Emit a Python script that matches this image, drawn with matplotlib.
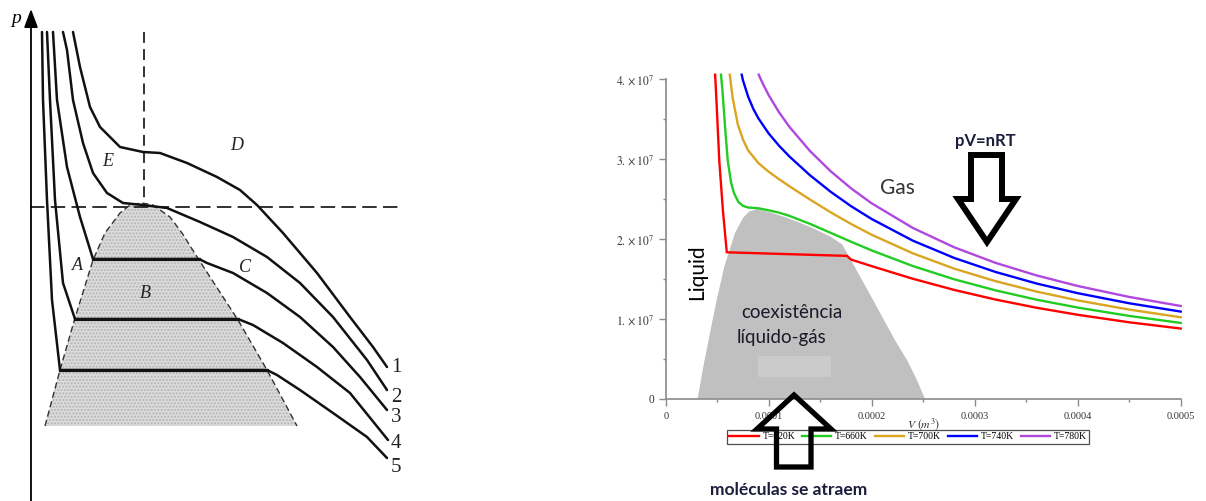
import numpy as np
import matplotlib.pyplot as plt
from matplotlib.patches import Polygon

plt.rcParams['font.family'] = ['Liberation Serif', 'DejaVu Serif']
plt.rcParams['mathtext.fontset'] = 'stix'

# ---------------- right panel: isotherms (V in 1e-4 m^3, p in 1e7 Pa) ----------------
temps = [620, 660, 700, 740, 780]
colors = ['#ff0000', '#22cc22', '#daa520', '#0000ff', '#b048e0']

v_620 = [0.48, 0.49, 0.52, 0.555, 0.593, 1.76, 1.8, 2.0, 2.4, 2.8, 3.2, 3.6, 4.0, 4.5, 5.0]
p_620 = [4.05, 3.80, 2.98, 2.36, 1.83, 1.785, 1.739, 1.657, 1.499, 1.360, 1.240, 1.137, 1.049, 0.955, 0.877]

v_660 = [0.537, 0.553, 0.576, 0.602, 0.635, 0.663, 0.705, 0.75, 0.8, 0.9, 1.0, 1.1, 1.2, 1.4, 1.6,
         1.8, 2.0, 2.4, 2.8, 3.2, 3.6, 4.0, 4.5, 5.0]
p_660 = [4.05, 3.82, 3.40, 2.98, 2.70, 2.57, 2.46, 2.41, 2.39, 2.38, 2.355, 2.326, 2.286, 2.186, 2.074,
         1.962, 1.853, 1.658, 1.493, 1.355, 1.238, 1.139, 1.035, 0.947]

v_700 = [0.622, 0.65, 0.7, 0.75, 0.8, 0.9, 1.0, 1.1, 1.2, 1.4, 1.6, 1.8, 2.0, 2.4, 2.8, 3.2, 3.6, 4.0, 4.5, 5.0]
p_700 = [4.05, 3.76, 3.43, 3.24, 3.105, 2.945, 2.837, 2.744, 2.657, 2.490, 2.331, 2.184, 2.049, 1.817,
         1.626, 1.470, 1.339, 1.229, 1.114, 1.018]

v_740 = [0.738, 0.75, 0.8, 0.85, 0.9, 1.0, 1.1, 1.2, 1.4, 1.6, 1.8, 2.0, 2.4, 2.8, 3.2, 3.6, 4.0, 4.5, 5.0]
p_740 = [4.05, 3.98, 3.777, 3.624, 3.504, 3.315, 3.163, 3.029, 2.794, 2.588, 2.406, 2.246, 1.975, 1.760,
         1.585, 1.440, 1.319, 1.193, 1.089]

v_780 = [0.903, 0.95, 1.0, 1.1, 1.2, 1.4, 1.6, 1.8, 2.0, 2.4, 2.8, 3.2, 3.6, 4.0, 4.5, 5.0]
p_780 = [4.05, 3.919, 3.794, 3.581, 3.400, 3.097, 2.845, 2.629, 2.442, 2.134, 1.893, 1.699, 1.541,
         1.409, 1.272, 1.159]

# liquid-gas coexistence region
dome_v = [0.304, 0.314, 0.365, 0.430, 0.495, 0.569, 0.673, 0.750, 0.810, 0.886, 1.012, 1.158, 1.303,
          1.449, 1.595, 1.712, 1.809, 1.906, 2.013, 2.129, 2.236, 2.343, 2.430, 2.517]
dome_p = [0, 0.025, 0.40, 0.821, 1.234, 1.65, 2.071, 2.26, 2.34, 2.37, 2.33, 2.27, 2.20,
          2.12, 2.03, 1.93, 1.709, 1.484, 1.234, 0.959, 0.709, 0.484, 0.259, 0]

x_ticks = [0, 1, 2, 3, 4, 5]
x_ticklabels = ['0', '0.0001', '0.0002', '0.0003', '0.0004', '0.0005']
y_ticks = [0, 1, 2, 3, 4]
y_ticklabels = ['0'] + [r'$%d.\times10^{7}$' % k for k in y_ticks[1:]]

# ---------------- left panel: textbook sketch (image pixel coords) ----------------
curve_1_x = [73, 80, 90, 100, 120, 143, 160, 187, 217, 240, 257, 283, 317, 350, 373, 387]
curve_1_y = [32, 67, 107, 127, 147, 152, 153, 163, 177, 190, 205, 233, 273, 317, 347, 367]
curve_2_x = [63, 67, 73, 83, 93, 107, 123, 143, 167, 200, 233, 267, 300, 333, 367, 387]
curve_2_y = [32, 50, 100, 143, 173, 193, 203, 205, 208, 222, 237, 257, 283, 317, 360, 390]
curve_3_x = [53, 57, 67, 80, 93, 199, 207, 233, 267, 300, 333, 360, 387]
curve_3_y = [32, 100, 167, 217, 259, 259, 263, 273, 293, 317, 347, 377, 410]
curve_4_x = [47, 50, 55, 63, 75, 238, 253, 283, 317, 350, 388]
curve_4_y = [32, 100, 200, 283, 319, 319, 325, 343, 367, 393, 440]
curve_5_x = [42, 43, 47, 52, 60, 267, 277, 300, 333, 367, 387]
curve_5_y = [32, 100, 200, 300, 370, 370, 375, 390, 413, 437, 458]
sketch_curves = [(curve_1_x, curve_1_y), (curve_2_x, curve_2_y), (curve_3_x, curve_3_y),
                 (curve_4_x, curve_4_y), (curve_5_x, curve_5_y)]

tie_y = [259, 319, 370]
tie_x0 = [93, 75, 60]
tie_x1 = [199, 238, 267]

sk_dome_x = [45, 60, 75, 93, 105, 120, 130, 142, 153, 170, 182, 199, 238, 267, 297]
sk_dome_y = [426, 370, 318, 260, 233, 213, 205, 203, 205, 217, 233, 260, 320, 370, 426]

fig = plt.figure(figsize=(12.06, 5.01), dpi=100)

# ---- left sketch ----
axl = fig.add_axes([0, 0, 420 / 1206, 1])
axl.set_xlim(0, 420)
axl.set_ylim(501, 0)
axl.axis('off')

axl.fill(sk_dome_x, sk_dome_y, facecolor='#dcdcdc', edgecolor='#b4b4b4', hatch='.....', lw=0)
axl.plot(sk_dome_x, sk_dome_y, color='#333333', lw=1.0, ls=(0, (4.5, 2.5)))
axl.plot([30, 403], [207, 207], color='#222222', lw=1.3, ls=(0, (8, 3.5)))
axl.plot([144, 144], [32, 207], color='#222222', lw=1.3, ls=(0, (6, 3.5)))
for cx, cy in sketch_curves:
    axl.plot(cx, cy, color='#111111', lw=1.8, solid_joinstyle='round', solid_capstyle='round')
for y, x0, x1 in zip(tie_y, tie_x0, tie_x1):
    axl.plot([x0, x1], [y, y], color='#111111', lw=2.3)
axl.annotate('', xy=(31, 9), xytext=(31, 501),
             arrowprops=dict(arrowstyle='-|>,head_length=0.8,head_width=0.3',
                             mutation_scale=14, lw=1.3, color='black', shrinkA=0, shrinkB=0))
axl.text(16, 18, 'p', fontsize=14, style='italic', ha='center', va='center')
for s, x, y in [('E', 108, 162), ('D', 237, 145), ('A', 77, 265), ('B', 145, 293), ('C', 245, 267)]:
    axl.text(x, y, s, fontsize=13, style='italic', ha='center', va='center', color='#222222')
for k, y in enumerate([367, 397, 417, 443, 467]):
    axl.text(396, y, str(k + 1), fontsize=15, ha='center', va='center', color='#222222')

# ---- right chart ----
ax = fig.add_axes([665.7 / 1206, 102.3 / 501, 515 / 1206, 324 / 501])
ax.set_xlim(0, 5e-4)
ax.set_ylim(0, 4.05e7)
ax.set_facecolor('none')

ax.fill(np.array(dome_v) * 1e-4, np.array(dome_p) * 1e7, color='#c0c0c0', lw=0, zorder=1)
ax.fill_between([0.9e-4, 1.6e-4], 0.27e7, 0.53e7, color='#cbcbcb', lw=0, zorder=1.5)

series = [(v_620, p_620), (v_660, p_660), (v_700, p_700), (v_740, p_740), (v_780, p_780)]
for (v, p), t, c in zip(series, temps, colors):
    ax.plot(np.array(v) * 1e-4, np.array(p) * 1e7, color=c, lw=1.7, label='T=%dK' % t,
            clip_on=False, zorder=3)

for s in ['top', 'right']:
    ax.spines[s].set_visible(False)
for s in ['left', 'bottom']:
    ax.spines[s].set_color('#8a8a8a')
    ax.spines[s].set_linewidth(1.2)
ax.spines['left'].set_bounds(0, 4e7)

ax.set_xticks(np.array(x_ticks) * 1e-4)
ax.set_xticklabels(x_ticklabels)
ax.set_xticks(np.arange(0, 5.01, 0.5) * 1e-4, minor=True)
ax.set_yticks(np.array(y_ticks) * 1e7)
ax.set_yticklabels(y_ticklabels)
ax.set_yticks(np.arange(0, 4.01, 0.5) * 1e7, minor=True)
ax.tick_params(which='major', length=5, width=1, color='#8a8a8a', labelcolor='#333333')
ax.tick_params(axis='x', labelsize=7.5, pad=4.5)
ax.tick_params(axis='y', labelsize=8.3, pad=3)
ax.tick_params(which='minor', length=2.5, width=1, color='#8a8a8a')
ax.set_xlabel(r'$V\ (m^{3})$', fontsize=8.5, color='#333333')
ax.xaxis.set_label_coords(0.5, -0.055)

leg = ax.legend(loc='center', bbox_to_anchor=(908 / 1206, (501 - 436.7) / 501),
                bbox_transform=fig.transFigure, ncol=5, fontsize=7, frameon=True,
                fancybox=False, edgecolor='#222222', handlelength=3.0, handletextpad=0.4,
                columnspacing=0.7, borderpad=0.25, borderaxespad=0)
leg.get_frame().set_linewidth(0.9)

# ---- annotations drawn over everything ----
ov = fig.add_axes([0, 0, 1, 1], zorder=5)
ov.set_xlim(0, 1206)
ov.set_ylim(501, 0)
ov.axis('off')
ov.patch.set_alpha(0)

down_arrow = [(971, 155), (1002, 155), (1002, 199), (1016, 199), (987, 242), (958, 199), (971, 199)]
up_arrow = [(794, 395), (831, 429), (811, 429), (811, 467), (776.5, 467), (776.5, 429), (757, 429)]
ov.add_patch(Polygon(down_arrow, closed=True, fill=False, edgecolor='black', lw=4.3, joinstyle='miter'))
ov.add_patch(Polygon(up_arrow, closed=True, fill=False, edgecolor='black', lw=3.8, joinstyle='miter'))

sans = ['Lato', 'DejaVu Sans']
ov.text(985, 141, 'pV=nRT', fontsize=12, fontweight='bold', family=sans, color='#1c1c3c',
        ha='center', va='center')
ov.text(789, 490, 'moléculas se atraem', fontsize=12.5, fontweight='bold', family=sans,
        color='#1c1c3c', ha='center', va='center')
ov.text(897, 188, 'Gas', fontsize=15, family=sans, color='#333333', ha='center', va='center')
ov.text(697, 272, 'Liquid', fontsize=15, family=sans, color='black', rotation=90,
        ha='center', va='center')
ov.text(792, 313, 'coexistência', fontsize=13.5, family=sans, color='#1a1a2a', ha='center', va='center')
ov.text(782, 337, 'líquido-gás', fontsize=13.5, family=sans, color='#1a1a2a', ha='center', va='center')

fig.savefig('out.png', dpi=100)
